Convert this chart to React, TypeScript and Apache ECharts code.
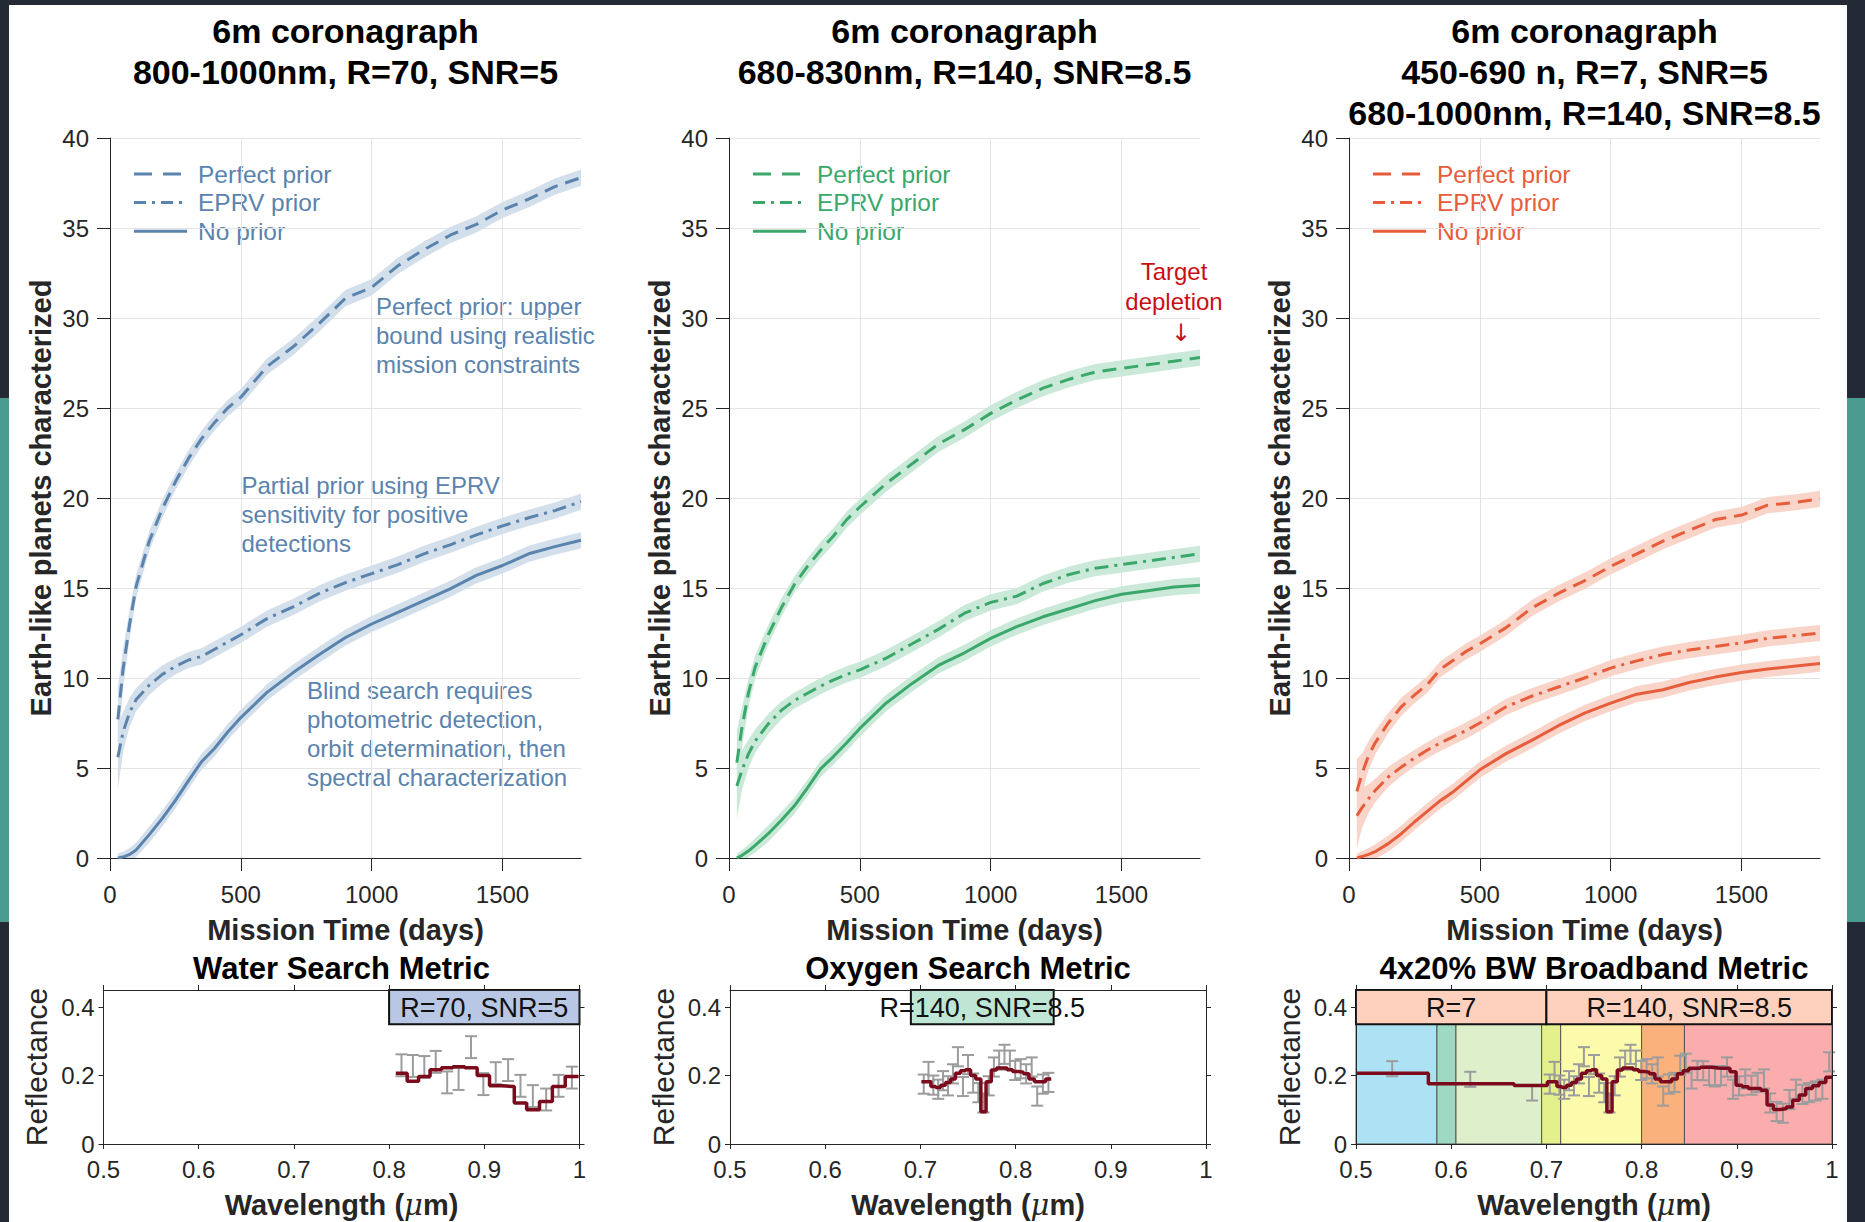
import React, { useEffect, useRef } from "react";
import * as echarts from "echarts";

// ---------- top panels: mission-time curves ----------
const DAYS = [30, 50, 75, 100, 150, 200, 250, 300, 350, 400, 450, 500, 600, 700, 800, 900, 1000, 1100, 1200, 1300, 1400, 1500, 1600, 1700, 1800];

const WATER_PERFECT = [7.7, 10.5, 13.0, 15.1, 17.6, 19.4, 20.9, 22.2, 23.3, 24.2, 25.0, 25.6, 27.3, 28.4, 29.7, 31.1, 31.7, 32.9, 33.8, 34.6, 35.2, 36.0, 36.6, 37.3, 37.8];
const WATER_EPRV = [5.6, 7.0, 8.1, 8.8, 9.6, 10.2, 10.65, 11.0, 11.2, 11.6, 12.0, 12.4, 13.3, 13.95, 14.7, 15.3, 15.8, 16.3, 16.9, 17.4, 17.95, 18.45, 18.9, 19.3, 19.8];
const WATER_NOPRIOR = [0, 0.05, 0.2, 0.45, 1.3, 2.2, 3.2, 4.3, 5.35, 6.1, 7.0, 7.8, 9.2, 10.3, 11.3, 12.25, 13.0, 13.65, 14.3, 14.95, 15.7, 16.25, 16.9, 17.3, 17.65];

const OXY_PERFECT = [5.3, 7.3, 9.2, 10.6, 12.4, 13.9, 15.2, 16.2, 17.1, 17.9, 18.8, 19.5, 20.8, 21.9, 23.0, 23.8, 24.7, 25.45, 26.1, 26.6, 27.0, 27.2, 27.4, 27.6, 27.8];
const OXY_EPRV = [4.0, 4.9, 5.8, 6.5, 7.45, 8.2, 8.75, 9.15, 9.55, 9.9, 10.2, 10.45, 11.1, 11.9, 12.7, 13.6, 14.2, 14.55, 15.25, 15.75, 16.1, 16.3, 16.5, 16.7, 16.9];
const OXY_NOPRIOR = [0, 0.15, 0.4, 0.7, 1.35, 2.1, 2.9, 3.9, 4.95, 5.65, 6.4, 7.2, 8.6, 9.7, 10.7, 11.4, 12.2, 12.85, 13.4, 13.85, 14.3, 14.65, 14.85, 15.05, 15.15];

const BB_PERFECT = [3.7, 4.7, 5.7, 6.4, 7.5, 8.4, 9.05, 9.65, 10.5, 11.0, 11.5, 11.9, 12.8, 13.9, 14.7, 15.4, 16.2, 16.9, 17.6, 18.2, 18.8, 19.05, 19.6, 19.75, 19.95];
const BB_EPRV = [2.35, 2.8, 3.3, 3.75, 4.5, 5.05, 5.55, 6.0, 6.4, 6.75, 7.1, 7.5, 8.4, 9.0, 9.5, 10.0, 10.55, 10.95, 11.3, 11.55, 11.75, 11.95, 12.2, 12.35, 12.5];
const BB_NOPRIOR = [0, 0.08, 0.2, 0.35, 0.8, 1.35, 2.0, 2.6, 3.2, 3.7, 4.3, 4.9, 5.8, 6.55, 7.35, 8.05, 8.6, 9.1, 9.35, 9.75, 10.05, 10.3, 10.5, 10.65, 10.8];

// half-width of the shaded uncertainty bands
const SPREAD_PRIOR = [1.8, 1.1, 0.8, 0.65, 0.55, 0.5, 0.45, 0.45, 0.45, 0.45, 0.45, 0.45, 0.45, 0.45, 0.45, 0.45, 0.45, 0.45, 0.45, 0.45, 0.45, 0.45, 0.45, 0.45, 0.45];
const SPREAD_BLIND = [0.25, 0.3, 0.35, 0.4, 0.45, 0.45, 0.45, 0.45, 0.45, 0.45, 0.45, 0.45, 0.45, 0.45, 0.45, 0.45, 0.45, 0.45, 0.45, 0.45, 0.45, 0.45, 0.45, 0.45, 0.45];

const X_TICKS = [0, 500, 1000, 1500];
const LEGEND_LABELS = ["Perfect prior", "EPRV prior", "No prior"];

// ---------- bottom panels: spectra ----------
const R70_WL = [0.813, 0.825, 0.837, 0.849, 0.861, 0.873, 0.886, 0.899, 0.912, 0.925, 0.938, 0.951, 0.965, 0.978, 0.992];
const R70_TRUE = [0.207, 0.183, 0.197, 0.217, 0.223, 0.226, 0.223, 0.2, 0.17, 0.168, 0.12, 0.1, 0.124, 0.168, 0.197];
const R70_OBS = [0.23, 0.228, 0.225, 0.24, 0.18, 0.19, 0.283, 0.175, 0.207, 0.216, 0.17, 0.14, 0.13, 0.17, 0.194];
const R70_SIG = 0.032;

const R140_WL = [0.7035, 0.7085, 0.7136, 0.7187, 0.7238, 0.729, 0.7342, 0.7394, 0.7447, 0.75, 0.7554, 0.7608, 0.7662, 0.7717, 0.7772, 0.7827, 0.7883, 0.794, 0.7996, 0.8053, 0.8111, 0.8169, 0.8227, 0.8286, 0.8345, 0.8405, 0.8465, 0.8525, 0.8586, 0.8647, 0.8709, 0.8771, 0.8834, 0.8897, 0.896, 0.9024, 0.9089, 0.9154, 0.9219, 0.9285, 0.9351, 0.9418, 0.9485, 0.9553, 0.9621, 0.969, 0.9759, 0.9829, 0.9899, 0.997];
const R140_TRUE = [0.182, 0.182, 0.168, 0.165, 0.172, 0.18, 0.19, 0.207, 0.214, 0.217, 0.2, 0.19, 0.094, 0.182, 0.216, 0.222, 0.222, 0.217, 0.212, 0.21, 0.205, 0.19, 0.182, 0.182, 0.19, 0.205, 0.214, 0.221, 0.221, 0.224, 0.224, 0.222, 0.221, 0.221, 0.211, 0.172, 0.167, 0.162, 0.162, 0.157, 0.114, 0.101, 0.103, 0.108, 0.128, 0.143, 0.162, 0.17, 0.18, 0.195];
const R140_OBS = [0.175, 0.212, 0.172, 0.16, 0.185, 0.17, 0.205, 0.255, 0.168, 0.232, 0.178, 0.15, 0.12, 0.17, 0.225, 0.245, 0.262, 0.245, 0.215, 0.22, 0.205, 0.225, 0.14, 0.175, 0.18, 0.23, 0.236, 0.19, 0.215, 0.214, 0.2, 0.196, 0.2, 0.225, 0.16, 0.17, 0.19, 0.172, 0.18, 0.19, 0.12, 0.095, 0.09, 0.13, 0.16, 0.145, 0.15, 0.155, 0.16, 0.24];
const R140_SIG = 0.028;
const OXY_BINS = 25;

const R7_WL = [0.538, 0.62, 0.685];
const R7_EDGES = [0.5, 0.576, 0.666];
const R7_TRUE = [0.207, 0.176, 0.171];
const R7_OBS = [0.22, 0.189, 0.149];
const R7_SIG = 0.022;

const BAND_EDGES = [0.5, 0.585, 0.605, 0.695, 0.715, 0.8, 0.845, 1.0];
const BAND_COLORS = ["#ade2f4", "#9fd9c3", "#ddefcb", "#e3f08c", "#fcfbac", "#fbb17c", "#fbadad"];

const WL_TICKS = [0.5, 0.6, 0.7, 0.8, 0.9, 1];
const REF_TICKS = [0, 0.2, 0.4];

const FONT = '"Liberation Sans", Arial, Helvetica, sans-serif';
const AX = "#262626";
const ERR = "#9c9c9c";
const SPEC = "#7a0a1c";

const PANELS = [
  { left: 110, color: "#5a83ad", band: "#d3dfea", perfect: WATER_PERFECT, eprv: WATER_EPRV, none: WATER_NOPRIOR, title: ["6m coronagraph", "800-1000nm, R=70, SNR=5"] },
  { left: 729, color: "#3ba86b", band: "#cbe9d8", perfect: OXY_PERFECT, eprv: OXY_EPRV, none: OXY_NOPRIOR, title: ["6m coronagraph", "680-830nm, R=140, SNR=8.5"] },
  { left: 1349, color: "#e75d3c", band: "#f8d4c9", perfect: BB_PERFECT, eprv: BB_EPRV, none: BB_NOPRIOR, title: ["6m coronagraph", "450-690 n, R=7, SNR=5", "680-1000nm, R=140, SNR=8.5"] },
];
const TOP_Y = 138, TOP_H = 720, TOP_W = 471;
const BOT = [
  { left: 103.5, title: "Water Search Metric" },
  { left: 730, title: "Oxygen Search Metric" },
  { left: 1356, title: "4x20% BW Broadband Metric" },
];
const BOT_Y = 990, BOT_H = 154, BOT_W = 476;

const DASH = [14, 8];
const DASHDOT = [14, 6, 3, 6];
const LEG_DASH = [18, 11];
const LEG_DASHDOT = [12, 6, 3, 6];

function stepData(vals: number[], centers: number[]) {
  const n = centers.length;
  const edges: number[] = [];
  edges.push(centers[0] - (centers[1] - centers[0]) / 2);
  for (let i = 1; i < n; i++) edges.push((centers[i - 1] + centers[i]) / 2);
  edges.push(centers[n - 1] + (centers[n - 1] - centers[n - 2]) / 2);
  const pts: number[][] = [];
  for (let i = 0; i < n; i++) pts.push([edges[i], vals[i]]);
  pts.push([edges[n], vals[n - 1]]);
  return pts;
}

function bandSeries(k: number, vals: number[], spread: number[], fill: string) {
  return {
    type: "custom",
    xAxisIndex: k,
    yAxisIndex: k,
    silent: true,
    clip: true,
    z: 1,
    data: [[DAYS[0], vals[0]]],
    renderItem: (_p: any, api: any) => {
      const up = DAYS.map((d, i) => api.coord([d, vals[i] + spread[i]]));
      const lo = DAYS.map((d, i) => api.coord([d, vals[i] - spread[i]])).reverse();
      return { type: "polygon", shape: { points: up.concat(lo) }, style: { fill } };
    },
  };
}

function errSeries(k: number, wl: number[], obs: number[], sig: number) {
  return {
    type: "custom",
    xAxisIndex: k,
    yAxisIndex: k,
    silent: true,
    z: 3,
    data: wl.map((w, i) => [w, obs[i]]),
    renderItem: (params: any, api: any) => {
      const i = params.dataIndex;
      const t = api.coord([wl[i], obs[i] + sig]);
      const b = api.coord([wl[i], obs[i] - sig]);
      const c = 6;
      const st = { stroke: ERR, lineWidth: 2 };
      return {
        type: "group",
        children: [
          { type: "line", shape: { x1: t[0], y1: t[1], x2: b[0], y2: b[1] }, style: st },
          { type: "line", shape: { x1: t[0] - c, y1: t[1], x2: t[0] + c, y2: t[1] }, style: st },
          { type: "line", shape: { x1: b[0] - c, y1: b[1], x2: b[0] + c, y2: b[1] }, style: st },
        ],
      };
    },
  };
}

function boxSeries(k: number, x0s: number[], x1s: number[], y0: number, y1: number, fills: string[], texts: string[], stroke: string, lw: number, z: number) {
  return {
    type: "custom",
    xAxisIndex: k,
    yAxisIndex: k,
    silent: true,
    z,
    data: x0s.map((x) => [x, y0]),
    renderItem: (params: any, api: any) => {
      const i = params.dataIndex;
      const a = api.coord([x0s[i], y1]);
      const b = api.coord([x1s[i], y0]);
      const children: any[] = [
        { type: "rect", shape: { x: a[0], y: a[1], width: b[0] - a[0], height: b[1] - a[1] }, style: { fill: fills[i], stroke, lineWidth: lw } },
      ];
      if (texts[i]) {
        children.push({
          type: "text",
          style: { text: texts[i], x: (a[0] + b[0]) / 2, y: (a[1] + b[1]) / 2 + 1, align: "center", verticalAlign: "middle", fontSize: 27, fontFamily: FONT, fill: "#111" },
        });
      }
      return { type: "group", children };
    },
  };
}

function buildOption() {
  const grid: any[] = [];
  const xAxis: any[] = [];
  const yAxis: any[] = [];
  const series: any[] = [];
  const graphic: any[] = [];

  PANELS.forEach((p, k) => {
    grid.push({ left: p.left, top: TOP_Y, width: TOP_W, height: TOP_H });
    xAxis.push({
      type: "value", gridIndex: k, min: 0, max: 1800,
      axisLine: { lineStyle: { color: AX, width: 1 } },
      axisTick: { inside: false, length: 13, lineStyle: { color: AX }, customValues: X_TICKS },
      axisLabel: { customValues: X_TICKS, formatter: (v: number) => String(v), fontSize: 24, color: AX, margin: 24, fontFamily: FONT },
      splitLine: { show: true, lineStyle: { color: "#e4e4e4", width: 1 } },
      name: "Mission Time (days)", nameLocation: "middle", nameGap: 57,
      nameTextStyle: { fontSize: 29, fontWeight: "bold", color: AX, fontFamily: FONT },
    });
    yAxis.push({
      type: "value", gridIndex: k, min: 0, max: 40, interval: 5,
      axisLine: { show: true, lineStyle: { color: AX, width: 1 } },
      axisTick: { show: true, inside: false, length: 13, lineStyle: { color: AX } },
      axisLabel: { fontSize: 24, color: AX, margin: 21, fontFamily: FONT },
      splitLine: { show: true, lineStyle: { color: "#e4e4e4", width: 1 } },
      name: "Earth-like planets characterized", nameLocation: "middle", nameGap: 55, nameRotate: 90,
      nameTextStyle: { fontSize: 29, fontWeight: "bold", color: AX, fontFamily: FONT },
    });
    series.push(bandSeries(k, p.perfect, SPREAD_PRIOR, p.band));
    series.push(bandSeries(k, p.eprv, SPREAD_PRIOR, p.band));
    series.push(bandSeries(k, p.none, SPREAD_BLIND, p.band));
    const mk = (vals: number[], type: any) => ({
      type: "line", xAxisIndex: k, yAxisIndex: k, silent: true, z: 4,
      showSymbol: false, symbol: "none",
      data: DAYS.map((d, i) => [d, vals[i]]),
      lineStyle: { color: p.color, width: 3, type },
    });
    series.push(mk(p.perfect, DASH));
    series.push(mk(p.eprv, DASHDOT));
    series.push(mk(p.none, "solid"));

    const cx = p.left + TOP_W / 2;
    p.title.forEach((t, j) => {
      graphic.push({ type: "text", x: cx, y: 31 + j * 41, style: { text: t, align: "center", verticalAlign: "middle", fontSize: 34, fontWeight: "bold", fontFamily: FONT, fill: "#000" } });
    });
    const dashes = [LEG_DASH, LEG_DASHDOT, null];
    LEGEND_LABELS.forEach((lab, j) => {
      const y = 174 + j * 28.6;
      graphic.push({ type: "line", shape: { x1: p.left + 24, y1: y, x2: p.left + 77, y2: y }, style: { stroke: p.color, lineWidth: 3, lineDash: dashes[j] || undefined } });
      graphic.push({ type: "text", x: p.left + 88, y, style: { text: lab, align: "left", verticalAlign: "middle", fontSize: 24.5, fontFamily: FONT, fill: p.color } });
    });
  });

  const ann = [
    { x: 376, y: 306, lines: ["Perfect prior: upper", "bound using realistic", "mission constraints"] },
    { x: 241.5, y: 485, lines: ["Partial prior using EPRV", "sensitivity for positive", "detections"] },
    { x: 307, y: 690, lines: ["Blind search requires", "photometric detection,", "orbit determination, then", "spectral characterization"] },
  ];
  ann.forEach((a) => a.lines.forEach((t, j) => {
    graphic.push({ type: "text", x: a.x, y: a.y + j * 29, style: { text: t, align: "left", verticalAlign: "middle", fontSize: 24, fontFamily: FONT, fill: PANELS[0].color } });
  }));
  ["Target", "depletion"].forEach((t, j) => {
    graphic.push({ type: "text", x: 1174, y: 271 + j * 30, style: { text: t, align: "center", verticalAlign: "middle", fontSize: 24, fontFamily: FONT, fill: "#c80f12" } });
  });
  graphic.push({ type: "text", x: 1181, y: 333, style: { text: "↓", align: "center", verticalAlign: "middle", fontSize: 24, fontFamily: '"DejaVu Sans", ' + FONT, fill: "#c80f12" } });

  BOT.forEach((b, j) => {
    const gi = 3 + j;
    grid.push({ left: b.left, top: BOT_Y, width: BOT_W, height: BOT_H });
    xAxis.push({
      type: "value", gridIndex: gi, min: 0.5, max: 1, z: 10,
      axisLine: { onZero: false, lineStyle: { color: AX, width: 1 } },
      axisTick: { inside: false, length: 5, lineStyle: { color: AX }, customValues: WL_TICKS },
      axisLabel: { customValues: WL_TICKS, fontSize: 24, color: AX, margin: 13, fontFamily: FONT },
      splitLine: { show: false },
      name: "{b|Wavelength (}{i|μ}{b|m)}", nameLocation: "middle", nameGap: 46,
      nameTextStyle: {
        rich: {
          b: { fontSize: 29, fontWeight: "bold", color: AX, fontFamily: FONT },
          i: { fontSize: 29, fontStyle: "italic", color: AX, fontFamily: '"DejaVu Serif", "Liberation Serif", serif' },
        },
      },
    });
    yAxis.push({
      type: "value", gridIndex: gi, min: 0, max: 0.45, z: 10,
      axisLine: { show: true, onZero: false, lineStyle: { color: AX, width: 1 } },
      axisTick: { show: true, inside: false, length: 5, lineStyle: { color: AX }, customValues: REF_TICKS },
      axisLabel: { customValues: REF_TICKS, fontSize: 24, color: AX, margin: 9, fontFamily: FONT },
      splitLine: { show: false },
      name: "Reflectance", nameLocation: "middle", nameGap: 52, nameRotate: 90,
      nameTextStyle: { fontSize: 30, color: AX, fontFamily: FONT },
    });
    graphic.push({ type: "text", x: b.left + BOT_W / 2, y: 968, style: { text: b.title, align: "center", verticalAlign: "middle", fontSize: 31, fontWeight: "bold", fontFamily: FONT, fill: "#000" } });
  });
  BOT.forEach((_b, j) => {
    const gi = 3 + j;
    xAxis.push({
      type: "value", gridIndex: gi, position: "top", min: 0.5, max: 1, z: 10,
      axisLine: { onZero: false, lineStyle: { color: AX, width: 1 } },
      axisTick: { inside: false, length: 5, lineStyle: { color: AX }, customValues: WL_TICKS },
      axisLabel: { show: false }, splitLine: { show: false },
    });
    yAxis.push({
      type: "value", gridIndex: gi, position: "right", min: 0, max: 0.45, z: 10,
      axisLine: { show: true, onZero: false, lineStyle: { color: AX, width: 1 } },
      axisTick: { show: true, inside: false, length: 5, lineStyle: { color: AX }, customValues: REF_TICKS },
      axisLabel: { show: false }, splitLine: { show: false },
    });
  });

  const specLine = (k: number, pts: number[][]) => ({
    type: "line", xAxisIndex: k, yAxisIndex: k, silent: true, z: 4, step: "end",
    showSymbol: false, symbol: "none", data: pts,
    lineStyle: { color: SPEC, width: 3.5 },
  });

  series.push(boxSeries(3, [0.8], [1.0], 0.35, 0.45, ["#b8c8e4"], ["R=70, SNR=5"], "#111", 2, 5));
  series.push(specLine(3, stepData(R70_TRUE, R70_WL)));
  series.push(errSeries(3, R70_WL, R70_OBS, R70_SIG));

  const oxyWl = R140_WL.slice(0, OXY_BINS);
  series.push(boxSeries(4, [0.69], [0.84], 0.35, 0.45, ["#bfe6d5"], ["R=140, SNR=8.5"], "#111", 2, 5));
  series.push(specLine(4, stepData(R140_TRUE.slice(0, OXY_BINS), oxyWl)));
  series.push(errSeries(4, oxyWl, R140_OBS.slice(0, OXY_BINS), R140_SIG));

  series.push(boxSeries(5, BAND_EDGES.slice(0, -1), BAND_EDGES.slice(1), 0, 0.35, BAND_COLORS, [], "#555", 1, 1));
  series.push(boxSeries(5, [0.5, 0.7], [0.7, 1.0], 0.35, 0.45, ["#fdd1bd", "#fdd1bd"], ["R=7", "R=140, SNR=8.5"], "#111", 2, 5));
  const r140pts = stepData(R140_TRUE, R140_WL);
  const bbPts = R7_EDGES.map((e, i) => [e, R7_TRUE[i]]).concat(r140pts);
  series.push(specLine(5, bbPts));
  series.push(errSeries(5, R7_WL, R7_OBS, R7_SIG));
  series.push(errSeries(5, R140_WL, R140_OBS, R140_SIG));

  const DARK = "#242a35", TEAL = "#4b9b90";
  graphic.push({ type: "rect", z: 100, shape: { x: 0, y: 0, width: 1865, height: 5 }, style: { fill: DARK } });
  graphic.push({ type: "rect", z: 100, shape: { x: 0, y: 0, width: 9, height: 1222 }, style: { fill: DARK } });
  graphic.push({ type: "rect", z: 100, shape: { x: 1847, y: 0, width: 18, height: 1222 }, style: { fill: DARK } });
  graphic.push({ type: "rect", z: 101, shape: { x: 0, y: 398, width: 9, height: 524 }, style: { fill: TEAL } });
  graphic.push({ type: "rect", z: 101, shape: { x: 1847, y: 398, width: 18, height: 524 }, style: { fill: TEAL } });

  return {
    animation: false,
    backgroundColor: "#ffffff",
    textStyle: { fontFamily: FONT },
    grid, xAxis, yAxis, series, graphic,
  };
}

export default function App() {
  const ref = useRef<HTMLDivElement>(null);
  useEffect(() => {
    if (!ref.current) return;
    const chart = echarts.init(ref.current, undefined, { renderer: "svg" });
    chart.setOption(buildOption() as any);
    return () => chart.dispose();
  }, []);
  return <div ref={ref} style={{ position: "fixed", left: 0, top: 0, width: 1865, height: 1222 }} />;
}
